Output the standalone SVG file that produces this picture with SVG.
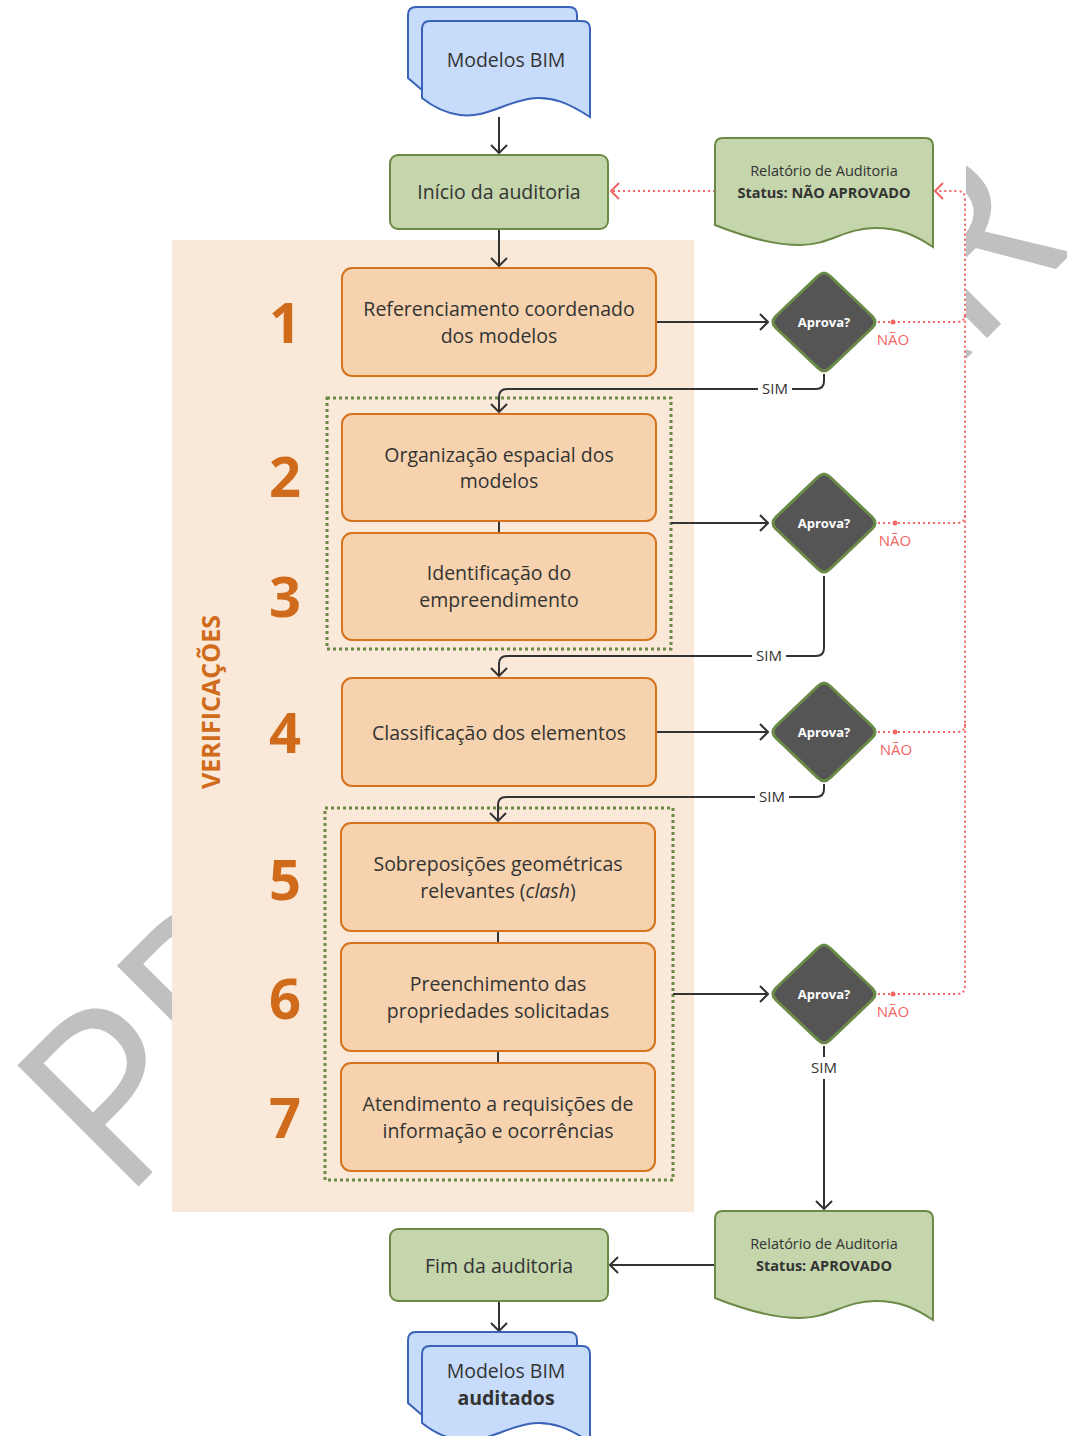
<svg xmlns="http://www.w3.org/2000/svg" width="1067" height="1436" viewBox="0 0 1067 1436">
<style>
.t{font-family:"Open Sans","Noto Sans","DejaVu Sans",sans-serif;fill:#333;text-anchor:middle}
.lbl{font-size:19.5px}
.rep{font-size:14.5px}
.b{font-weight:bold}
.num{font-family:"Open Sans","Noto Sans",sans-serif;font-weight:bold;font-size:56px;fill:#d06b1b;text-anchor:middle}
.step{fill:#f6d3ae;stroke:#d5731f;stroke-width:2}
.green{fill:#c5d5ac;stroke:#6b8a47;stroke-width:2}
.doc{fill:#c7dbfb;stroke:#3a63b8;stroke-width:2}
.grp{fill:none;stroke:#6b8a47;stroke-width:3;stroke-dasharray:3 3}
.dia{fill:#555;stroke:#6b8a47;stroke-width:3}
.aprova{font-family:"Open Sans","Noto Sans",sans-serif;font-weight:bold;font-size:13px;fill:#fff;text-anchor:middle}
.ln{fill:none;stroke:#333;stroke-width:2}
.red{fill:none;stroke:#f26666;stroke-width:2;stroke-dasharray:2 3}
.nao{font-family:"Open Sans","Noto Sans",sans-serif;font-size:15px;fill:#f26666;text-anchor:middle}
.sim{font-family:"Open Sans","Noto Sans",sans-serif;font-size:15px;fill:#333;text-anchor:middle}
</style>
<defs>
<marker id="ah" viewBox="0 0 10 18" refX="9" refY="9" markerWidth="10" markerHeight="18" markerUnits="userSpaceOnUse" orient="auto">
<path d="M1,1 L9,9 L1,17" fill="none" stroke="#333" stroke-width="2"/>
</marker>
<marker id="ahr" viewBox="0 0 10 18" refX="9" refY="9" markerWidth="10" markerHeight="18" markerUnits="userSpaceOnUse" orient="auto">
<path d="M1,1 L9,9 L1,17" fill="none" stroke="#f26666" stroke-width="2"/>
</marker>
</defs>
<rect width="1067" height="1436" fill="#fff"/>
<!-- watermark -->
<text x="122" y="1203" transform="rotate(-45 122 1203)" font-family="Open Sans, Noto Sans, sans-serif" font-size="240" fill="#c0c0c0" textLength="1348" lengthAdjust="spacing">PRELIMINAR</text>
<rect x="172" y="0" width="794" height="1436" fill="#fff"/>
<!-- panel -->
<rect id="panel" x="172" y="240" width="522" height="972" fill="#fae8d8"/>
<text class="t b" transform="translate(220 702) rotate(-90)" font-size="25" style="fill:#d06b1b">VERIFICAÇÕES</text>
<!-- groups -->
<rect id="group1" class="grp" x="327" y="398" width="344" height="251"/>
<rect id="group2" class="grp" x="325" y="808" width="348" height="372"/>
<!-- connectors -->
<g id="connectors">
<path class="ln" d="M499,117 L499,153" marker-end="url(#ah)"/>
<path class="ln" d="M499,229 L499,266" marker-end="url(#ah)"/>
<path class="ln" d="M656,322 L768,322" marker-end="url(#ah)"/>
<path class="ln" d="M671,523 L768,523" marker-end="url(#ah)"/>
<path class="ln" d="M656,732 L768,732" marker-end="url(#ah)"/>
<path class="ln" d="M673,994 L768,994" marker-end="url(#ah)"/>
<path class="ln" d="M499,521 L499,533"/>
<path class="ln" d="M498,931 L498,943"/>
<path class="ln" d="M498,1051 L498,1063"/>
<path class="ln" d="M824,374 L824,381 Q824,389 816,389 L507,389 Q499,389 499,397 L499,412" marker-end="url(#ah)"/>
<path class="ln" d="M824,576 L824,648 Q824,656 816,656 L507,656 Q499,656 499,664 L499,676" marker-end="url(#ah)"/>
<path class="ln" d="M824,784 L824,789 Q824,797 816,797 L506,797 Q498,797 498,805 L498,821" marker-end="url(#ah)"/>
<path class="ln" d="M824,1046 L824,1209" marker-end="url(#ah)"/>
<path class="ln" d="M715,1265 L610,1265" marker-end="url(#ah)"/>
<path class="ln" d="M499,1301 L499,1331" marker-end="url(#ah)"/>
<path class="red" d="M878,322 L957,322 Q965,322 965,314 L965,199 Q965,191 957,191 L935,191" marker-end="url(#ahr)"/>
<path class="red" d="M878,523 L957,523 Q965,523 965,515"/>
<path class="red" d="M878,732 L957,732 Q965,732 965,724"/>
<path class="red" d="M878,994 L957,994 Q965,994 965,986 L965,314"/>
<path class="red" d="M715,191 L611,191" marker-end="url(#ahr)"/>
<circle cx="893" cy="322" r="2.5" fill="#f26666"/>
<circle cx="895" cy="523" r="2.5" fill="#f26666"/>
<circle cx="895" cy="732" r="2.5" fill="#f26666"/>
<circle cx="893" cy="994" r="2.5" fill="#f26666"/>
<rect x="758" y="380" width="34" height="18" fill="#fff"/>
<text class="sim" x="775" y="394">SIM</text>
<rect x="752" y="647" width="34" height="18" fill="#fff"/>
<text class="sim" x="769" y="661">SIM</text>
<rect x="755" y="788" width="34" height="18" fill="#fff"/>
<text class="sim" x="772" y="802">SIM</text>
<rect x="806" y="1057" width="36" height="22" fill="#fff"/>
<text class="sim" x="824" y="1073">SIM</text>
<text class="nao" x="893" y="345">NÃO</text>
<text class="nao" x="895" y="546">NÃO</text>
<text class="nao" x="896" y="755">NÃO</text>
<text class="nao" x="893" y="1017">NÃO</text>
</g>
<!-- nodes -->
<g id="modelos-bim">
<path class="doc" d="M422,90 L408,78 L408,15 Q408,7 416,7 L569,7 Q577,7 577,15 L577,60 L422,60 Z"/>
<path class="doc" d="M422,29 Q422,21 430,21 L582,21 Q590,21 590,29 L590,117 C570,104 552,95 528,99 C502,104 485,118 460,115 C445,113 432,106 422,98 Z"/>
<text class="t lbl" x="506" y="67">Modelos BIM</text>
</g>
<g id="inicio">
<rect class="green" x="390" y="155" width="218" height="74" rx="8"/>
<text class="t lbl" x="499" y="199">Início da auditoria</text>
</g>
<g id="rel-nao">
<path class="green" d="M715,146 Q715,138 723,138 L925,138 Q933,138 933,146 L933,247 C915,235 900,228 875,228 C845,228 830,245 800,245 C770,245 740,235 715,225 Z"/>
<text class="t rep" x="824" y="176">Relatório de Auditoria</text>
<text class="t rep b" x="824" y="198">Status: NÃO APROVADO</text>
</g>
<g id="step1">
<rect class="step" x="342" y="268" width="314" height="108" rx="10"/>
<text class="t lbl" x="499" y="316">Referenciamento coordenado</text>
<text class="t lbl" x="499" y="343">dos modelos</text>
<text class="num" x="285" y="343">1</text>
</g>
<g id="step2">
<rect class="step" x="342" y="414" width="314" height="107" rx="10"/>
<text class="t lbl" x="499" y="462">Organização espacial dos</text>
<text class="t lbl" x="499" y="488">modelos</text>
<text class="num" x="285" y="497">2</text>
</g>
<g id="step3">
<rect class="step" x="342" y="533" width="314" height="107" rx="10"/>
<text class="t lbl" x="499" y="580">Identificação do</text>
<text class="t lbl" x="499" y="607">empreendimento</text>
<text class="num" x="285" y="617">3</text>
</g>
<g id="step4">
<rect class="step" x="342" y="678" width="314" height="108" rx="10"/>
<text class="t lbl" x="499" y="740">Classificação dos elementos</text>
<text class="num" x="285" y="753">4</text>
</g>
<g id="step5">
<rect class="step" x="341" y="823" width="314" height="108" rx="10"/>
<text class="t lbl" x="498" y="871">Sobreposições geométricas</text>
<text class="t lbl" x="498" y="898">relevantes (<tspan font-style="italic">clash</tspan>)</text>
<text class="num" x="285" y="900">5</text>
</g>
<g id="step6">
<rect class="step" x="341" y="943" width="314" height="108" rx="10"/>
<text class="t lbl" x="498" y="991">Preenchimento das</text>
<text class="t lbl" x="498" y="1018">propriedades solicitadas</text>
<text class="num" x="285" y="1019">6</text>
</g>
<g id="step7">
<rect class="step" x="341" y="1063" width="314" height="108" rx="10"/>
<text class="t lbl" x="498" y="1111">Atendimento a requisições de</text>
<text class="t lbl" x="498" y="1138">informação e ocorrências</text>
<text class="num" x="285" y="1138">7</text>
</g>
<g id="aprova1">
<path class="dia" d="M818,276 Q824,270 830,276 L872,316 Q878,322 872,328 L830,368 Q824,374 818,368 L776,328 Q770,322 776,316 Z"/>
<text class="aprova" x="824" y="327">Aprova?</text>
</g>
<g id="aprova2">
<path class="dia" d="M818,477 Q824,471 830,477 L872,517 Q878,523 872,529 L830,569 Q824,575 818,569 L776,529 Q770,523 776,517 Z"/>
<text class="aprova" x="824" y="528">Aprova?</text>
</g>
<g id="aprova3">
<path class="dia" d="M818,686 Q824,680 830,686 L872,726 Q878,732 872,738 L830,778 Q824,784 818,778 L776,738 Q770,732 776,726 Z"/>
<text class="aprova" x="824" y="737">Aprova?</text>
</g>
<g id="aprova4">
<path class="dia" d="M818,948 Q824,942 830,948 L872,988 Q878,994 872,1000 L830,1040 Q824,1046 818,1040 L776,1000 Q770,994 776,988 Z"/>
<text class="aprova" x="824" y="999">Aprova?</text>
</g>
<g id="rel-aprovado">
<path class="green" d="M715,1219 Q715,1211 723,1211 L925,1211 Q933,1211 933,1219 L933,1320 C915,1308 900,1301 875,1301 C845,1301 830,1318 800,1318 C770,1318 740,1308 715,1298 Z"/>
<text class="t rep" x="824" y="1249">Relatório de Auditoria</text>
<text class="t rep b" x="824" y="1271">Status: APROVADO</text>
</g>
<g id="fim">
<rect class="green" x="390" y="1229" width="218" height="72" rx="8"/>
<text class="t lbl" x="499" y="1273">Fim da auditoria</text>
</g>
<g id="modelos-auditados">
<path class="doc" d="M422,1415 L408,1403 L408,1340 Q408,1332 416,1332 L569,1332 Q577,1332 577,1340 L577,1385 L422,1385 Z"/>
<path class="doc" d="M422,1354 Q422,1346 430,1346 L582,1346 Q590,1346 590,1354 L590,1442 C570,1429 552,1420 528,1424 C502,1429 485,1443 460,1440 C445,1438 432,1431 422,1423 Z"/>
<text class="t lbl" x="506" y="1378">Modelos BIM</text>
<text class="t lbl b" x="506" y="1405">auditados</text>
</g>
</svg>
